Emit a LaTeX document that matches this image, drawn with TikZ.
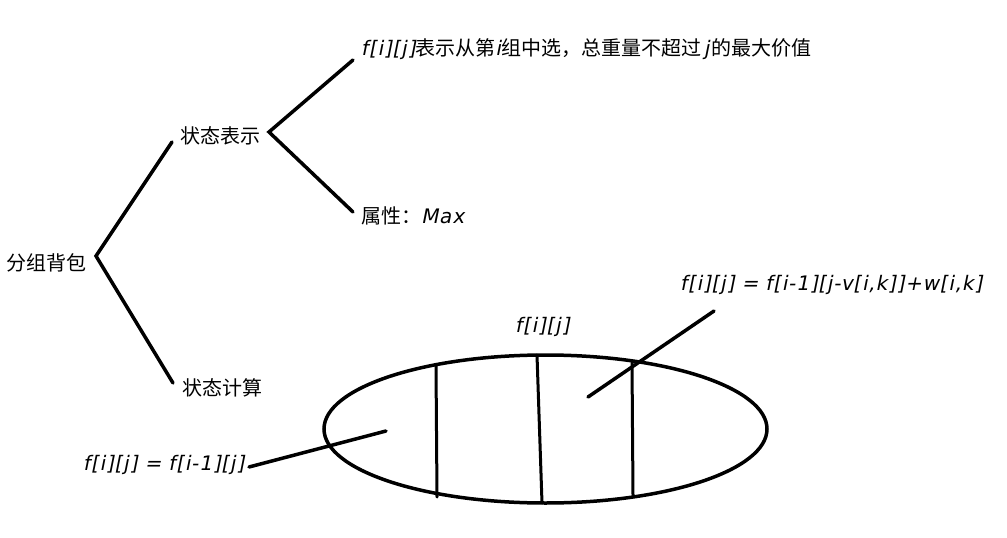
\documentclass[tikz,border=0pt]{standalone}
\usepackage{fontspec}
\setmainfont{Noto Sans CJK SC}
\newfontfamily\fm[FakeSlant=0.2,LetterSpace=4]{DejaVu Sans}
\usetikzlibrary{shapes.geometric}
\tikzset{
  lbl/.style={anchor=west, inner sep=0pt, font=\fontsize{20}{24}\selectfont},
  stroke/.style={line width=3.5pt, line cap=round, black},
  thin/.style={line width=3pt, line cap=round, black},
}
\begin{document}
\begin{tikzpicture}[x=1pt,y=-1pt]
\useasboundingbox (0,0) rectangle (1007,538);
% texts
\node[lbl] (root) at (6,263) {分组背包};
\node[lbl] (rep) at (180,136) {状态表示};
\node[lbl] (calc) at (182,388) {状态计算};
\node[lbl] (def) at (361,49) {{\fm f[i][j]}表示从第{\fm i\kern1pt}组中选，总重量不超过{\fm\kern2pt j\kern2pt}的最大价值};
\node[lbl] (attr) at (361,216) {属性：{\fm Max}};
\node[lbl] (f1) at (680,285) {\fm f[i][j] = f[i-1][j-v[i,k]]+w[i,k]};
\node[lbl] (f0) at (83,465) {\fm f[i][j] = f[i-1][j]};
\node[lbl] (fij) at (515,327) {\fm f[i][j]};
% tree coordinates
\coordinate (j0) at (96,256);
\coordinate (a1) at (172,142);
\coordinate (a2) at (173,383);
\coordinate (j1) at (269,132);
\coordinate (b1) at (353,60);
\coordinate (b2) at (353,212);
\draw[stroke] (a1) -- (j0) -- (a2);
\draw[stroke] (b1) -- (j1) -- (b2);
% ellipse
\node[draw, stroke, ellipse, minimum width=443pt, minimum height=148pt, inner sep=0pt] (ell) at (545.5,429) {};
\coordinate (v1t) at (436,366); \coordinate (v1b) at (437,497);
\coordinate (v2t) at (537,355); \coordinate (v2b) at (542,503);
\coordinate (v3t) at (632,362); \coordinate (v3b) at (633,495);
\draw[thin] (v1t) -- (v1b);
\draw[thin] (v2t) -- (v2b);
\draw[thin] (v3t) -- (v3b);
% pointers
\coordinate (p0a) at (249,467); \coordinate (p0b) at (386,431);
\coordinate (p1a) at (588,397); \coordinate (p1b) at (714,311);
\draw[stroke] (p0a) -- (p0b);
\draw[stroke] (p1a) -- (p1b);
\end{tikzpicture}
\end{document}
